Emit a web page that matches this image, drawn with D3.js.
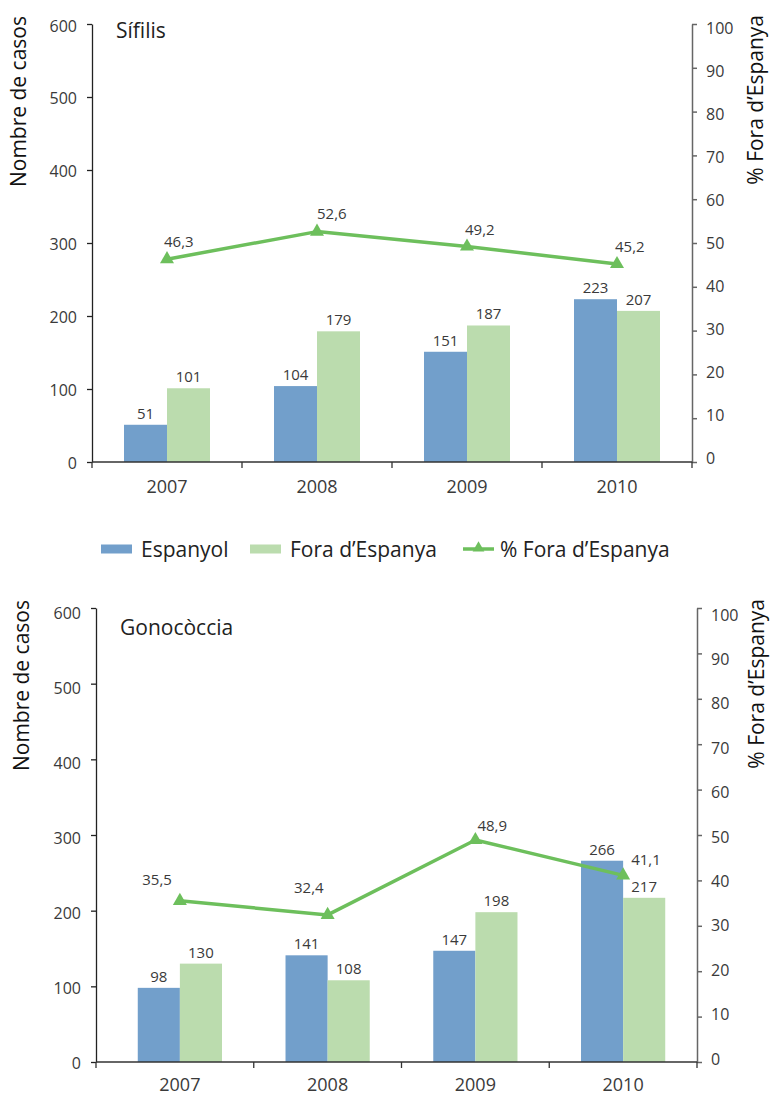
<!DOCTYPE html>
<html>
<head>
<meta charset="utf-8">
<script src="https://cdn.jsdelivr.net/npm/d3@7"></script>
<style>
  html, body { margin: 0; padding: 0; background: #fff; }
  svg { display: block; font-family: "Open Sans", "Noto Sans", sans-serif; }
</style>
</head>
<body>
<svg id="chart" width="770" height="1097"></svg>
<script>
// Casos declarats per origen (Espanyol / Fora d'Espanya) i percentatge d'estrangers
const years = ["2007", "2008", "2009", "2010"];

const sifilisEspanyol = [51, 104, 151, 223];
const sifilisFora = [101, 179, 187, 207];
const sifilisPct = [46.3, 52.6, 49.2, 45.2];

const gonoEspanyol = [98, 141, 147, 266];
const gonoFora = [130, 108, 198, 217];
const gonoPct = [35.5, 32.4, 48.9, 41.1];

const casesTicks = [0, 100, 200, 300, 400, 500, 600];
const pctTicks = [0, 10, 20, 30, 40, 50, 60, 70, 80, 90, 100];

const seriesNames = ["Espanyol", "Fora d\u2019Espanya", "% Fora d\u2019Espanya"];

const COLORS = { esp: "#729fcb", fora: "#bbdcae", line: "#6dbf5c" };
const TEXT = "#3a3a3a";

const svg = d3.select("#chart");
const fmtPct = v => d3.format(".1f")(v).replace(".", ",");

function triangle(sel, size) {
  sel.attr("d", d3.symbol().type(d3.symbolTriangle).size(size)());
}

// tick labels sit slightly off their ticks: shift interpolated from bottom to top
function shiftLabels(axisG, scale, lo, hi) {
  const [d0, d1] = scale.domain();
  axisG.selectAll(".tick text")
    .attr("dy", d => `${lo + (hi - lo) * (d - d0) / (d1 - d0)}px`);
}

function drawChart(cfg) {
  const g = svg.append("g");
  const y = d3.scaleLinear().domain([0, 600]).range([cfg.bottom, cfg.top]);
  const yPct = d3.scaleLinear().domain([0, 100]).range([cfg.bottom, cfg.top]);
  const x0 = d3.scaleBand().domain(years).range([cfg.bandLeft, cfg.right])
    .paddingInner(cfg.padIn).paddingOuter(cfg.padIn / 2);
  const x1 = d3.scaleBand().domain(["esp", "fora"]).range([0, x0.bandwidth()]);

  const rows = years.map((yr, i) => ({ yr, esp: cfg.esp[i], fora: cfg.fora[i], pct: cfg.pct[i] }));

  // bars
  const grp = g.selectAll("g.year").data(rows).join("g")
    .attr("transform", d => `translate(${x0(d.yr)},0)`);
  grp.selectAll("rect").data(d => [{ k: "esp", v: d.esp }, { k: "fora", v: d.fora }]).join("rect")
    .attr("x", d => x1(d.k))
    .attr("y", d => y(d.v))
    .attr("width", x1.bandwidth())
    .attr("height", d => cfg.bottom - y(d.v))
    .attr("fill", d => COLORS[d.k]);
  grp.selectAll("text").data(d => [{ k: "esp", v: d.esp }, { k: "fora", v: d.fora }]).join("text")
    .attr("x", d => x1(d.k) + x1.bandwidth() / 2)
    .attr("y", d => y(d.v) - 6)
    .attr("text-anchor", "middle")
    .attr("font-size", 15)
    .attr("fill", TEXT)
    .text(d => d.v);

  // left axis
  const left = g.append("g").attr("transform", `translate(${cfg.left},0)`)
    .call(d3.axisLeft(y).tickValues(casesTicks).tickSize(5).tickPadding(10).tickSizeOuter(0));
  left.select(".domain").attr("stroke", "#222").attr("stroke-width", 1.3);
  left.selectAll(".tick line").attr("stroke", "#222").attr("stroke-width", 1.3);
  left.selectAll(".tick text").attr("font-size", 16).attr("fill", TEXT)
    .attr("font-family", "Open Sans").attr("dominant-baseline", "central");
  shiftLabels(left, y, cfg.leftShift[0], cfg.leftShift[1]);

  // right axis
  const right = g.append("g").attr("transform", `translate(${cfg.right},0)`)
    .call(d3.axisRight(yPct).tickValues(pctTicks).tickSize(5).tickPadding(9).tickSizeOuter(0));
  right.select(".domain").attr("stroke", "#666").attr("stroke-width", 1.5);
  right.selectAll(".tick line").attr("stroke", "#666").attr("stroke-width", 1.5);
  right.selectAll(".tick text").attr("font-size", 16).attr("fill", TEXT)
    .attr("font-family", "Open Sans").attr("dominant-baseline", "central");
  shiftLabels(right, yPct, cfg.rightShift[0], cfg.rightShift[1]);

  // category axis
  const centers = years.map(yr => x0(yr) + x0.bandwidth() / 2);
  const bounds = [cfg.left];
  for (let i = 0; i < centers.length - 1; i++) bounds.push((centers[i] + centers[i + 1]) / 2);
  bounds.push(cfg.right);
  g.append("line").attr("x1", cfg.left).attr("x2", cfg.right)
    .attr("y1", cfg.bottom).attr("y2", cfg.bottom)
    .attr("stroke", "#333").attr("stroke-width", 1.3);
  g.selectAll("line.xt").data(bounds).join("line").attr("class", "xt")
    .attr("x1", d => d).attr("x2", d => d)
    .attr("y1", cfg.bottom).attr("y2", cfg.bottom + 6)
    .attr("stroke", "#333").attr("stroke-width", 1.3);
  g.selectAll("text.year").data(years).join("text").attr("class", "year")
    .attr("x", d => x0(d) + x0.bandwidth() / 2)
    .attr("y", cfg.bottom + cfg.yearGap)
    .attr("text-anchor", "middle")
    .attr("font-size", 18)
    .attr("fill", TEXT)
    .text(d => d);

  // percentage line
  const line = d3.line()
    .x(d => x0(d.yr) + x0.bandwidth() / 2)
    .y(d => yPct(d.pct));
  g.append("path").datum(rows).attr("d", line)
    .attr("fill", "none").attr("stroke", COLORS.line).attr("stroke-width", 3.5)
    .attr("stroke-linejoin", "round");
  g.selectAll("path.mk").data(rows).join("path").attr("class", "mk")
    .call(triangle, 85)
    .attr("transform", d => `translate(${x0(d.yr) + x0.bandwidth() / 2},${yPct(d.pct)})`)
    .attr("fill", COLORS.line);
  g.selectAll("text.pct").data(rows).join("text").attr("class", "pct")
    .attr("x", (d, i) => x0(d.yr) + x0.bandwidth() / 2 + cfg.pctLabel[i][0])
    .attr("y", (d, i) => yPct(d.pct) + cfg.pctLabel[i][1])
    .attr("text-anchor", (d, i) => cfg.pctLabel[i][2])
    .attr("font-size", 15)
    .attr("fill", TEXT)
    .text(d => fmtPct(d.pct));

  // titles
  g.append("text").attr("x", cfg.left + 24).attr("y", cfg.titleY)
    .attr("font-size", 21).attr("fill", "#222").text(cfg.title);
  g.append("text")
    .attr("transform", `translate(${cfg.leftTitleX},${cfg.top - 8}) rotate(-90)`)
    .attr("text-anchor", "end")
    .attr("font-size", 21).attr("fill", "#111")
    .text("Nombre de casos");
  g.append("text")
    .attr("transform", `translate(${cfg.rightTitleX},${cfg.top - 9}) rotate(-90)`)
    .attr("text-anchor", "end")
    .attr("font-size", 21).attr("fill", "#111")
    .text("% Fora d\u2019Espanya");
}

drawChart({
  title: "S\u00edfilis", esp: sifilisEspanyol, fora: sifilisFora, pct: sifilisPct,
  left: 92, bandLeft: 92, right: 692, top: 24, bottom: 462, padIn: 0.4267,
  leftShift: [0, 1], rightShift: [-5, 3.5], yearGap: 31, titleY: 38,
  leftTitleX: 26, rightTitleX: 763,
  pctLabel: [[-3, -12, "start"], [0, -13, "start"], [-2, -12, "start"], [-2, -12, "start"]]
});

drawChart({
  title: "Gonoc\u00f2ccia", esp: gonoEspanyol, fora: gonoFora, pct: gonoPct,
  left: 96, bandLeft: 106, right: 697, top: 608, bottom: 1062, padIn: 0.43,
  leftShift: [0, 4], rightShift: [-4, 6], yearGap: 29, titleY: 635,
  leftTitleX: 29, rightTitleX: 764,
  pctLabel: [[-8, -16, "end"], [-4, -22, "end"], [2, -9, "start"], [8, -10, "start"]]
});

// legend shared by both panels
const legend = svg.append("g").attr("transform", "translate(0,549)");
const legendItems = [
  { name: seriesNames[0], kind: "esp", x: 101, tx: 141 },
  { name: seriesNames[1], kind: "fora", x: 250, tx: 290 },
  { name: seriesNames[2], kind: "line", x: 463, tx: 500 }
];
legendItems.forEach(it => {
  if (it.kind === "line") {
    legend.append("line").attr("x1", it.x).attr("x2", it.x + 31).attr("y1", 0).attr("y2", 0)
      .attr("stroke", COLORS.line).attr("stroke-width", 3.5);
    legend.append("path").call(triangle, 60)
      .attr("transform", `translate(${it.x + 15.5},-1)`).attr("fill", COLORS.line);
  } else {
    legend.append("rect").attr("x", it.x).attr("y", -4.5).attr("width", 31).attr("height", 9)
      .attr("fill", COLORS[it.kind]);
  }
  legend.append("text").attr("x", it.tx).attr("y", 7.5)
    .attr("font-size", 21).attr("fill", "#222").text(it.name);
});
</script>
</body>
</html>
